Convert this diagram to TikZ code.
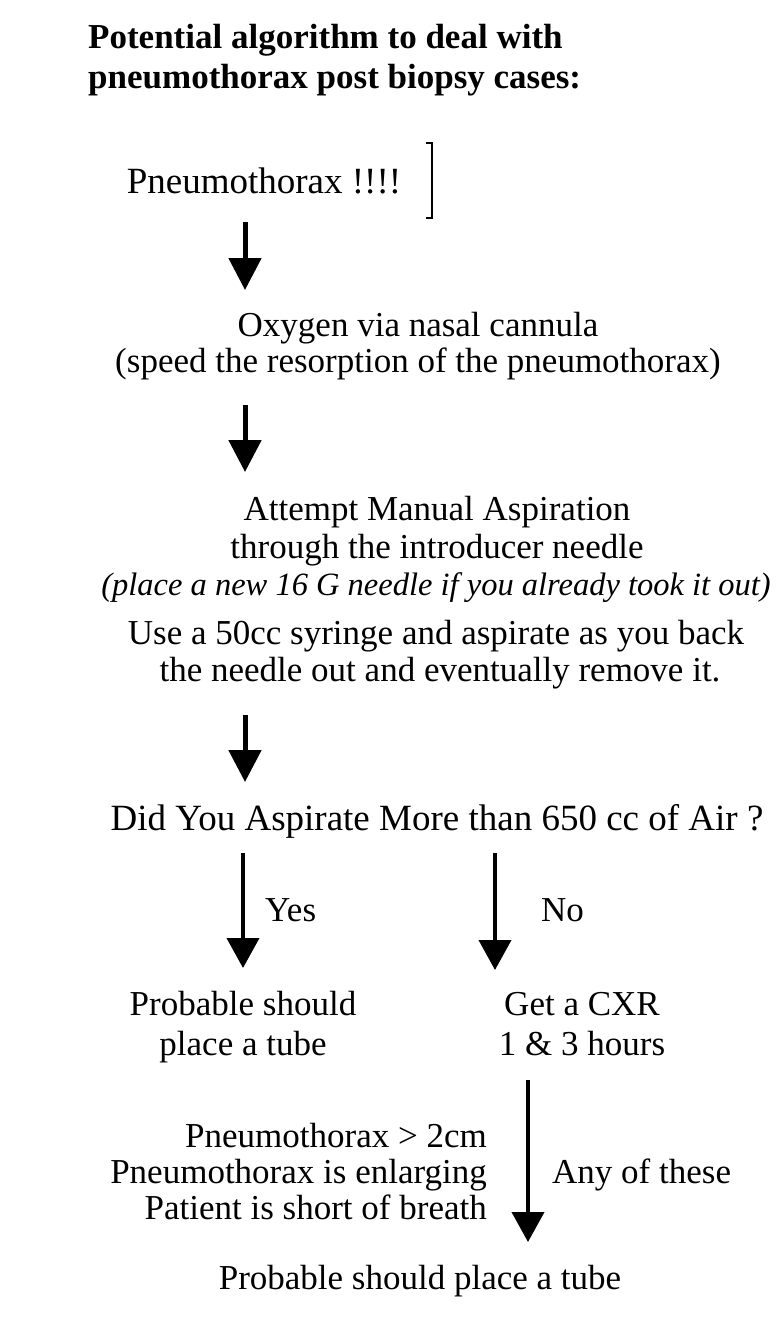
\documentclass[tikz,border=0pt]{standalone}
\usepackage{fontspec}
\setmainfont{Liberation Serif}
\usetikzlibrary{arrows.meta}
\tikzset{
  fixh/.style={text height=0.66em, text depth=0pt, yshift=-7pt},
  txt/.style={inner sep=0pt, fixh, font=\fontsize{35}{40}\selectfont},
  bigtxt/.style={inner sep=0pt, fixh, font=\fontsize{37}{42}\selectfont},
  ttl/.style={inner sep=0pt, fixh, anchor=west, font=\fontsize{35}{40}\selectfont\bfseries},
  itl/.style={inner sep=0pt, fixh, font=\fontsize{32.5}{38}\selectfont\itshape},
  bigarrow/.style={line width=5pt, -{Triangle[width=32pt,length=32pt]}},
  thinarrow/.style={line width=4pt, -{Triangle[width=32pt,length=30pt]}},
}
\begin{document}
\begin{tikzpicture}[x=1pt,y=-1pt]
\useasboundingbox (0,0) rectangle (780,1328);
\fill[white] (0,0) rectangle (780,1328);
% title
\node[ttl] (t1) at (88,38) {Potential algorithm to deal with};
\node[ttl] (t2) at (88,78) {pneumothorax post biopsy cases:};
% step 1
\node[bigtxt] (pn) at (264,183) {Pneumothorax !!!!};
\draw[line width=2pt] (426,143) -- (432,143) -- (432,218) -- (426,218);
\coordinate (a1s) at (245,222);
\coordinate (a1e) at (245,290);
\draw[bigarrow] (a1s) -- (a1e);
% step 2
\node[txt] (ox1) at (418,326) {Oxygen via nasal cannula};
\node[txt] (ox2) at (418,362) {(speed the resorption of the pneumothorax)};
\coordinate (a2s) at (245,405);
\coordinate (a2e) at (245,472);
\draw[bigarrow] (a2s) -- (a2e);
% step 3
\node[txt] (at1) at (437,510) {Attempt Manual Aspiration};
\node[txt] (at2) at (437,548) {through the introducer needle};
\node[itl] (at3) at (436,585) {(place a new 16 G needle if you already took it out)};
\node[txt] (at4) at (436,634) {Use a 50cc syringe and aspirate as you back};
\node[txt] (at5) at (440,671) {the needle out and eventually remove it.};
\coordinate (a3s) at (245,715);
\coordinate (a3e) at (245,782);
\draw[bigarrow] (a3s) -- (a3e);
% question
\node[bigtxt] (q) at (437,820) {Did You Aspirate More than 650 cc of Air ?};
\coordinate (ys) at (243,853);
\coordinate (ye) at (243,968);
\draw[thinarrow] (ys) -- (ye);
\node[txt, anchor=west] (yes) at (265,911) {Yes};
\coordinate (ns) at (495,853);
\coordinate (ne) at (495,970);
\draw[thinarrow] (ns) -- (ne);
\node[txt, anchor=west] (no) at (541,911) {No};
% outcomes
\node[txt] (p1) at (243,1005) {Probable should};
\node[txt] (p2) at (243,1045) {place a tube};
\node[txt] (c1) at (582,1005) {Get a CXR};
\node[txt] (c2) at (582,1045) {1 \& 3 hours};
\coordinate (ls) at (528,1080);
\coordinate (le) at (528,1242);
\draw[thinarrow] (ls) -- (le);
\node[txt, anchor=east] (r1) at (487,1137) {Pneumothorax > 2cm};
\node[txt, anchor=east] (r2) at (487,1173) {Pneumothorax is enlarging};
\node[txt, anchor=east] (r3) at (487,1209) {Patient is short of breath};
\node[txt, anchor=west] (any) at (552,1173) {Any of these};
\node[txt] (fin) at (420,1279) {Probable should place a tube};
\end{tikzpicture}
\end{document}
